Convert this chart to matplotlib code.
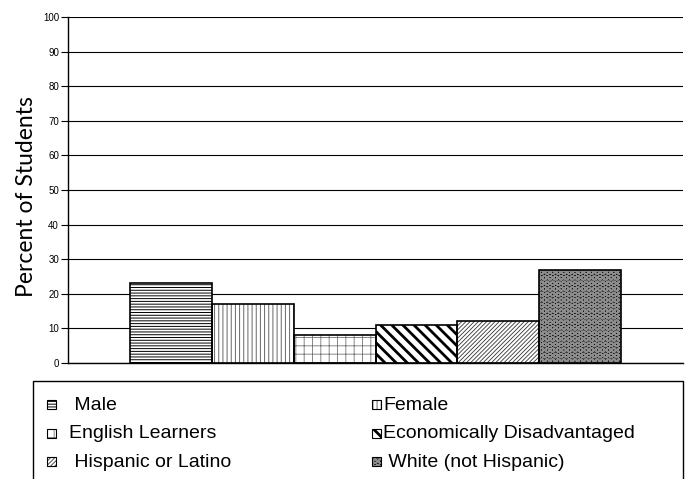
import numpy as np
import matplotlib
matplotlib.use("Agg")
import matplotlib.pyplot as plt
from matplotlib.patches import Rectangle

# ── Data ─────────────────────────────────────────────────────
groups = ["Male", "Female", "English Learners", "Economically Disadvantaged",
          "Hispanic or Latino", "White (not Hispanic)"]
percents = [23, 17, 8, 11, 12, 27]
y_ticks = [0, 10, 20, 30, 40, 50, 60, 70, 80, 90, 100]

# legend layout: two columns, filled top to bottom
legend_cols = [["Male", "English Learners", "Hispanic or Latino"],
               ["Female", "Economically Disadvantaged", "White (not Hispanic)"]]

# ── Styles (fill, hatch colour, hatch, hatch width) ──────────
styles = {
    "Male":                       ("white", "black", "------", 0.7),
    "Female":                     ("white", "0.4",   "||||",   0.7),
    "English Learners":           ("white", "0.45",  "++",     0.6),
    "Economically Disadvantaged": ("white", "black", "\\\\\\", 2.0),
    "Hispanic or Latino":         ("white", "0.2",   "////////", 0.6),
    "White (not Hispanic)":       ("0.05",  "0.55",  "OOO",    1.3),
}

W, H = 685, 479
fig = plt.figure(figsize=(W / 100, H / 100), dpi=100)
ax = fig.add_axes([68 / W, 1 - 363 / H, 615 / W, 346 / H])


def hatched(make, lw):
    with plt.rc_context({"hatch.linewidth": lw}):
        p = make()
    for art in p:
        if hasattr(art, "set_hatch_linewidth"):
            art.set_hatch_linewidth(lw)
    return p


x = np.arange(len(groups))
for i, (g, v) in enumerate(zip(groups, percents)):
    face, hc, hatch, lw = styles[g]
    hatched(lambda: ax.bar(x[i], v, width=1.0, color=face, edgecolor=hc,
                           hatch=hatch, linewidth=0, zorder=2), lw)
ax.bar(x, percents, width=1.0, fill=False, edgecolor="black",
       linewidth=1.2, zorder=3)

ax.set_xlim(-0.5 - 62 / 82, len(groups) - 0.5 + 62 / 82)
ax.set_ylim(0, 100)
ax.set_yticks(y_ticks)
ax.set_xticks([])
ax.yaxis.grid(True, color="black", linewidth=0.8)
ax.set_axisbelow(True)
for side in ("top", "right"):
    ax.spines[side].set_visible(False)
for side in ("left", "bottom"):
    ax.spines[side].set_color("black")
    ax.spines[side].set_linewidth(1.0)
ax.tick_params(axis="y", direction="out", length=5, width=0.8,
               labelsize=7, pad=1.5)
for lab in ax.get_yticklabels():
    lab.set_fontfamily("Liberation Sans")

fig.text(27 / W, 1 - 197 / H, "Percent of Students", rotation=90,
         fontsize=16.5, family="Lato", ha="center", va="center")

# ── Legend box (runs off the bottom edge) ────────────────────
fig.patches.append(Rectangle((33 / W, -0.05), 650 / W, 1 - 381 / H + 0.05,
                             transform=fig.transFigure, fill=False,
                             edgecolor="black", linewidth=1.0))

col_marker_x = [47, 372]
col_text_x = [69, 383]
row_base_y = [410, 438.5, 467]
for c, col in enumerate(legend_cols):
    for r, g in enumerate(col):
        face, hc, hatch, lw = styles[g]
        y0 = row_base_y[r] - 10
        mk = Rectangle((col_marker_x[c] / W, 1 - (y0 + 9) / H), 9 / W, 9 / H,
                       transform=fig.transFigure, facecolor=face,
                       edgecolor=hc, hatch=hatch, linewidth=0)
        if hasattr(mk, "set_hatch_linewidth"):
            mk.set_hatch_linewidth(lw)
        fig.patches.append(mk)
        fig.patches.append(Rectangle((col_marker_x[c] / W, 1 - (y0 + 9) / H),
                                     9 / W, 9 / H, transform=fig.transFigure,
                                     fill=False, edgecolor="black",
                                     linewidth=0.8))
        label = g if g in ("English Learners", "Female",
                           "Economically Disadvantaged") else " " + g
        fig.text(col_text_x[c] / W, 1 - row_base_y[r] / H, label,
                 fontsize=14, family="Liberation Sans", va="baseline",
                 ha="left")

fig.savefig("out.png", dpi=100)
